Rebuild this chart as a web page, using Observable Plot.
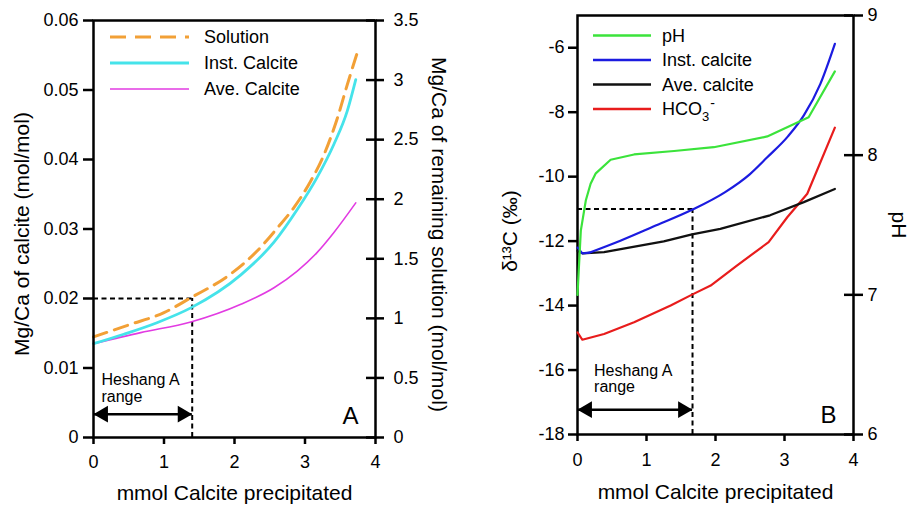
<!DOCTYPE html>
<html>
<head>
<meta charset="utf-8">
<script src="https://cdn.jsdelivr.net/npm/d3@7"></script>
<script src="https://cdn.jsdelivr.net/npm/@observablehq/plot@0.6"></script>
<style>
  body { margin: 0; background: #fff; font-family: "Liberation Sans", Arial, sans-serif; }
  #wrap { position: relative; width: 912px; height: 505px; overflow: hidden; }
  #a { position: absolute; left: 0; top: 0; }
  #b { position: absolute; left: 456px; top: 0; }
</style>
</head>
<body>
<div id="wrap"><div id="a"></div><div id="b"></div></div>
<script>
// ---------------- Panel A data (x = mmol calcite precipitated) ----------------
const solutionX      = [0, 0.5, 1.0, 1.38, 1.94, 2.32, 2.61, 2.84, 3.08, 3.27, 3.46, 3.60, 3.74];
const solutionMgCa   = [0.844, 0.945, 1.048, 1.173, 1.370, 1.565, 1.760, 1.928, 2.151, 2.375, 2.682, 2.962, 3.227]; // right axis
const instCalciteX   = [0, 0.43, 0.90, 1.38, 2.09, 2.56, 2.89, 3.17, 3.41, 3.60, 3.72];
const instCalciteMgCa= [0.0135, 0.01486, 0.01652, 0.01865, 0.0234, 0.0281, 0.0328, 0.0374, 0.0422, 0.0470, 0.0515];
const aveCalciteX    = [0, 0.67, 1.38, 2.09, 2.56, 2.89, 3.17, 3.41, 3.72];
const aveCalciteMgCa = [0.0135, 0.01509, 0.01662, 0.01917, 0.02155, 0.02395, 0.0266, 0.0295, 0.03376];
const xTicks         = [0, 1, 2, 3, 4];
const leftTicksA     = [0, 0.01, 0.02, 0.03, 0.04, 0.05, 0.06];
const rightTicksA    = [0, 0.5, 1, 1.5, 2, 2.5, 3, 3.5];
const heshangA       = { x: 1.40, level: 0.02, arrowY: 0.00336, labelX: 0.113, labelY: 0.0093 };

// ---------------- Panel B data ----------------
const pHX        = [0, 0.01, 0.048, 0.12, 0.19, 0.265, 0.48, 0.82, 1.4, 1.975, 2.75, 3.35, 3.73];
const pHValues   = [7.0, 7.1, 7.46, 7.675, 7.795, 7.87, 7.967, 8.005, 8.03, 8.057, 8.134, 8.272, 8.6];
const instX      = [0, 0.07, 0.17, 0.63, 1.1, 1.66, 2.14, 2.5, 2.75, 3.05, 3.28, 3.52, 3.73];
const instD13C   = [-12.2, -12.38, -12.36, -11.98, -11.55, -11.03, -10.48, -9.92, -9.4, -8.75, -8.1, -7.12, -5.88];
const aveX       = [0, 0.07, 0.385, 1.25, 1.66, 2.07, 2.79, 3.28, 3.73];
const aveD13C    = [-12.3, -12.38, -12.34, -12.01, -11.79, -11.62, -11.2, -10.79, -10.38];
const hco3X      = [0, 0.07, 0.385, 0.82, 1.35, 1.66, 1.93, 2.31, 2.77, 3.04, 3.33, 3.73];
const hco3D13C   = [-14.83, -15.06, -14.88, -14.52, -14.0, -13.66, -13.38, -12.76, -12.03, -11.26, -10.53, -8.48];
const leftTicksB = [-18, -16, -14, -12, -10, -8, -6];
const pHTicks    = [6, 7, 8, 9];
const heshangB   = { x: 1.667, level: -11, arrowY: -17.23, labelX: 0.24, labelY: -15.8 };

const FONT = '"Liberation Sans", Arial, Helvetica, sans-serif';
const zip = (xs, ys) => xs.map((x, i) => ({ x, y: ys[i] }));

// ---------------- Panel A ----------------
const kA = 0.06 / 3.5; // right-axis unit -> left-axis unit
const mA = { l: 93, r: 81, t: 20, b: 68 };
const W = 456, H = 505;
const pwA = W - mA.l - mA.r;

const solutionData = zip(solutionX, solutionMgCa).map(d => ({ x: d.x, y: d.y * kA }));
const instData = zip(instCalciteX, instCalciteMgCa);
const aveData = zip(aveCalciteX, aveCalciteMgCa);

function arrowMarks(h) {
  return [
    Plot.ruleY([h.arrowY], { x1: 0, x2: h.x, stroke: "black", strokeWidth: 2.5 }),
    Plot.dot([{ x: 0, y: h.arrowY }], { x: "x", y: "y", symbol: "triangle", r: 6.2, rotate: -90, dx: 9.6, fill: "black", stroke: "none" }),
    Plot.dot([{ x: h.x, y: h.arrowY }], { x: "x", y: "y", symbol: "triangle", r: 6.2, rotate: 90, dx: -9.6, fill: "black", stroke: "none" })
  ];
}

const plotA = Plot.plot({
  width: W, height: H,
  marginLeft: mA.l, marginRight: mA.r, marginTop: mA.t, marginBottom: mA.b,
  style: { fontFamily: FONT, fontSize: "18px", background: "white", overflow: "visible", color: "black" },
  x: { domain: [0, 4] },
  y: { domain: [0, 0.06] },
  marks: [
    Plot.ruleY([heshangA.level], { x1: 0, x2: heshangA.x, stroke: "black", strokeWidth: 2, strokeDasharray: "5,3.5" }),
    Plot.ruleX([heshangA.x], { y1: 0, y2: heshangA.level, stroke: "black", strokeWidth: 2, strokeDasharray: "5,3.5" }),
    ...arrowMarks(heshangA),
    Plot.text([{ x: heshangA.labelX, y: heshangA.labelY, t: "Heshang A\nrange" }], { x: "x", y: "y", text: "t", textAnchor: "start", lineAnchor: "top", fontSize: 16, lineHeight: 1.05 }),
    Plot.line(aveData, { x: "x", y: "y", stroke: "#E23BE2", strokeWidth: 1.6, curve: "monotone-x" }),
    Plot.line(instData, { x: "x", y: "y", stroke: "#45E3EA", strokeWidth: 2.8, curve: "monotone-x" }),
    Plot.line(solutionData, { x: "x", y: "y", stroke: "#F2A036", strokeWidth: 3, strokeDasharray: "14,8", curve: "monotone-x" }),
    Plot.frame({ stroke: "black", strokeWidth: 2.5 }),
    Plot.axisX({ ticks: xTicks, tickSize: 7, tickPadding: 11, tickFormat: d => String(d), label: null, fontSize: 18, strokeWidth: 2.5 }),
    Plot.axisY({ ticks: leftTicksA, tickSize: 10, tickPadding: 5, tickFormat: d => d === 0 ? "0" : d.toFixed(2), label: null, fontSize: 18, strokeWidth: 2.5 }),
    Plot.axisY({ anchor: "right", ticks: rightTicksA.map(v => v * kA), tickSize: 8, tickPadding: 10, tickFormat: d => String(Math.round(d / kA * 10) / 10), label: null, fontSize: 18, strokeWidth: 2.5 }),
    Plot.tickY(rightTicksA.map(v => v * kA), { y: d => d, insetLeft: pwA - 9, stroke: "black", strokeWidth: 2.5 }),
    Plot.text(["mmol Calcite precipitated"], { text: d => d, frameAnchor: "bottom", textAnchor: "middle", lineAnchor: "middle", dy: 55.6, fontSize: 21 }),
    Plot.text(["Mg/Ca of calcite (mol/mol)"], { text: d => d, frameAnchor: "left", textAnchor: "middle", lineAnchor: "middle", rotate: -90, dx: -71.4, dy: 5, fontSize: 21 }),
    Plot.text(["Mg/Ca of remaining solution (mol/mol)"], { text: d => d, frameAnchor: "right", textAnchor: "middle", lineAnchor: "middle", rotate: 90, dx: 63.4, dy: 5.5, fontSize: 21 }),
    Plot.text(["A"], { text: d => d, frameAnchor: "bottom-right", textAnchor: "end", lineAnchor: "middle", dx: -17, dy: -21, fontSize: 24 })
  ]
});
document.getElementById("a").appendChild(plotA);

// ---------------- Panel B ----------------
const mB = { l: 121, r: 59, t: 15, b: 71 };
const pwB = W - mB.l - mB.r;
const pHToD = p => -18 + (p - 6) * 13 / 3;   // pH (right) -> δ13C (left) units
const dToPH = d => 6 + (d + 18) * 3 / 13;

const pHData = zip(pHX, pHValues).map(d => ({ x: d.x, y: pHToD(d.y) }));
const instBData = zip(instX, instD13C);
const aveBData = zip(aveX, aveD13C);
const hco3Data = zip(hco3X, hco3D13C);

const plotB = Plot.plot({
  width: W, height: H,
  marginLeft: mB.l, marginRight: mB.r, marginTop: mB.t, marginBottom: mB.b,
  style: { fontFamily: FONT, fontSize: "18px", background: "white", overflow: "visible", color: "black" },
  x: { domain: [0, 4] },
  y: { domain: [-18, -5] },
  marks: [
    Plot.ruleY([heshangB.level], { x1: 0, x2: heshangB.x, stroke: "black", strokeWidth: 2, strokeDasharray: "5,3.5" }),
    Plot.ruleX([heshangB.x], { y1: -18, y2: heshangB.level, stroke: "black", strokeWidth: 2, strokeDasharray: "5,3.5" }),
    ...arrowMarks(heshangB),
    Plot.text([{ x: heshangB.labelX, y: heshangB.labelY, t: "Heshang A\nrange" }], { x: "x", y: "y", text: "t", textAnchor: "start", lineAnchor: "top", fontSize: 16, lineHeight: 1.05 }),
    Plot.frame({ stroke: "black", strokeWidth: 2.5 }),
    Plot.line(hco3Data, { x: "x", y: "y", stroke: "#E81C1C", strokeWidth: 2.2 }),
    Plot.line(aveBData, { x: "x", y: "y", stroke: "#111", strokeWidth: 2.2 }),
    // instantaneous calcite: sharp start, then a smooth rise
    Plot.line(instBData.slice(0, 3), { x: "x", y: "y", stroke: "#1B1BE0", strokeWidth: 2.2 }),
    Plot.line(instBData.slice(2), { x: "x", y: "y", stroke: "#1B1BE0", strokeWidth: 2.2, curve: "monotone-x" }),
    Plot.line(pHData, { x: "x", y: "y", stroke: "#3BE33B", strokeWidth: 2.2 }),
    Plot.axisX({ ticks: xTicks, tickSize: 7, tickPadding: 12, tickFormat: d => String(d), label: null, fontSize: 18, strokeWidth: 2.5 }),
    Plot.axisY({ ticks: leftTicksB, tickSize: 9, tickPadding: 4, tickFormat: d => String(d), label: null, fontSize: 18, strokeWidth: 2.5 }),
    Plot.axisY({ anchor: "right", ticks: pHTicks.map(pHToD), tickSize: 9, tickPadding: 5, tickFormat: d => String(Math.round(dToPH(d))), label: null, fontSize: 18, strokeWidth: 2.5 }),
    Plot.tickY(pHTicks.map(pHToD), { y: d => d, insetLeft: pwB - 9, stroke: "black", strokeWidth: 2.5 }),
    Plot.text(["mmol Calcite precipitated"], { text: d => d, frameAnchor: "bottom", textAnchor: "middle", lineAnchor: "middle", dy: 57.3, fontSize: 21 }),
    Plot.text(["δ¹³C (‰)"], { text: d => d, frameAnchor: "left", textAnchor: "middle", lineAnchor: "middle", rotate: -90, dx: -67, dy: 6, fontSize: 21 }),
    Plot.text(["pH"], { text: d => d, frameAnchor: "right", textAnchor: "middle", lineAnchor: "middle", rotate: 90, dx: 45.4, dy: 0, fontSize: 21 }),
    Plot.text(["B"], { text: d => d, frameAnchor: "bottom-right", textAnchor: "end", lineAnchor: "middle", dx: -17, dy: -19, fontSize: 24 })
  ]
});
document.getElementById("b").appendChild(plotB);

// ---------------- Legends ----------------
const legendA = [
  { label: "Solution", color: "#F2A036", width: 3, dash: "16,9" },
  { label: "Inst. Calcite", color: "#45E3EA", width: 2.8, dash: null },
  { label: "Ave. Calcite", color: "#E23BE2", width: 1.6, dash: null }
];
const legendB = [
  { label: "pH", color: "#3BE33B", width: 2.4, dash: null },
  { label: "Inst. calcite", color: "#1B1BE0", width: 2.4, dash: null },
  { label: "Ave. calcite", color: "#111", width: 2.4, dash: null },
  { label: "HCO3-", color: "#E81C1C", width: 2.4, dash: null, hco3: true }
];

function drawLegend(svgNode, items, { x1, x2, tx, ys }) {
  const g = d3.select(svgNode).append("g")
    .attr("font-family", FONT).attr("font-size", 18).attr("text-anchor", "start");
  items.forEach((it, i) => {
    g.append("line").attr("x1", x1).attr("x2", x2).attr("y1", ys[i]).attr("y2", ys[i])
      .attr("stroke", it.color).attr("stroke-width", it.width)
      .attr("stroke-dasharray", it.dash);
    const t = g.append("text").attr("x", tx).attr("y", ys[i]).attr("dy", "0.35em")
      .attr("fill", "black").attr("text-anchor", "start");
    if (it.hco3) {
      t.append("tspan").text("HCO");
      t.append("tspan").attr("font-size", 13).attr("dy", 6).text("3");
      t.append("tspan").attr("font-size", 14).attr("dy", -13).attr("dx", 1).text("-");
    } else {
      t.text(it.label);
    }
  });
}
drawLegend(plotA, legendA, { x1: 110, x2: 189, tx: 204, ys: [37, 63, 89] });
drawLegend(plotB, legendB, { x1: 137, x2: 195, tx: 206, ys: [35.5, 60, 84.5, 109] });
</script>
</body>
</html>
